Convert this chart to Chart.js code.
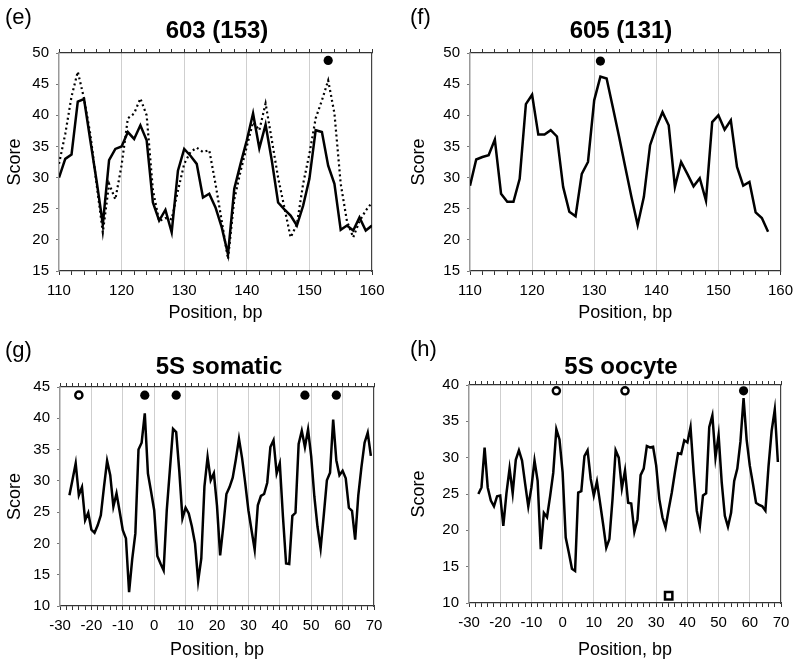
<!DOCTYPE html>
<html>
<head>
<meta charset="utf-8">
<title>Score profiles</title>
<script src="https://cdn.jsdelivr.net/npm/chart.js"></script>
<style>
  body { margin: 0; background: #fff; font-family: "Liberation Sans", Arial, sans-serif; }
  #wrap { position: relative; width: 800px; height: 668px; }
  canvas { position: absolute; }
  .lab { position: absolute; font-size: 22px; line-height: 24px; }
  .ttl { position: absolute; font-size: 24px; line-height: 28px; font-weight: bold; width: 400px; text-align: center; }
</style>
</head>
<body>
<div id="wrap">
  <canvas id="pe" width="400" height="334" style="left:0;top:0"></canvas>
  <canvas id="pf" width="400" height="334" style="left:400px;top:0"></canvas>
  <canvas id="pg" width="400" height="334" style="left:0;top:334px"></canvas>
  <canvas id="ph" width="400" height="334" style="left:400px;top:334px"></canvas>
  <div class="lab" style="left:5px;top:5px">(e)</div>
  <div class="lab" style="left:410px;top:5px">(f)</div>
  <div class="lab" style="left:5px;top:338px">(g)</div>
  <div class="lab" style="left:410px;top:337px">(h)</div>
  <div class="ttl" style="left:17px;top:16px">603 (153)</div>
  <div class="ttl" style="left:421px;top:16px">605 (131)</div>
  <div class="ttl" style="left:19px;top:352px">5S somatic</div>
  <div class="ttl" style="left:421px;top:352px">5S oocyte</div>
</div>
<script>
// positions (bp)
function range(a, b) { const r = []; for (let i = a; i <= b; i++) r.push(i); return r; }
const posE = range(110, 160);
const posF = range(110, 158);
const posG = range(-27, 69);
const posH = range(-27, 69);

// (e) 603 - solid and dotted profiles
const eSolid = [30.0, 33.0, 33.7, 42.2, 42.6, 36.0, 29.5, 22.5, 32.8, 34.6,
                35.0, 37.3, 36.2, 38.4, 36.0, 26.0, 23.1, 24.8, 21.2, 31.1,
                34.6, 33.5, 32.2, 26.8, 27.4, 25.2, 22.0, 17.7, 28.2, 32.2,
                36.0, 40.3, 34.7, 38.5, 32.7, 26.0, 24.9, 23.9, 22.3, 25.5,
                29.8, 37.6, 37.3, 31.9, 29.0, 21.6, 22.3, 21.5, 23.6, 21.5, 22.3];
const eDotted = [32.2, 37.0, 43.0, 47.0, 42.7, 37.0, 29.0, 21.2, 29.0, 26.5,
                 32.0, 39.5, 40.3, 42.7, 40.0, 28.0, 23.0, 23.5, 23.3, 27.9,
                 32.2, 34.1, 34.8, 34.1, 34.4, 29.0, 23.0, 16.9, 26.5, 31.0,
                 35.0, 38.9, 37.6, 41.9, 36.0, 30.0, 25.2, 20.4, 22.5, 29.0,
                 33.8, 39.5, 42.4, 45.6, 40.3, 29.0, 23.0, 20.4, 23.0, 24.7, 26.0];

// (f) 605
const fSolid = [28.7, 32.9, 33.3, 33.6, 36.1, 27.4, 26.1, 26.1, 29.8, 41.8,
                43.3, 36.9, 36.9, 37.6, 36.6, 28.5, 24.5, 23.8, 30.6, 32.5,
                42.4, 46.2, 45.9, 41.3, 36.6, 31.7, 26.9, 22.4, 26.9, 35.2,
                38.1, 40.5, 38.4, 28.5, 32.5, 30.6, 28.6, 29.9, 26.3, 38.9,
                40.0, 37.7, 39.2, 31.7, 28.7, 29.3, 24.4, 23.5, 21.3];

// (g) 5S somatic
const gSolid = [27.7, 30.2, 32.8, 27.7, 29.0, 23.7, 24.9, 22.2, 21.7, 22.9,
                24.5, 29.0, 33.2, 30.9, 25.9, 28.0, 25.1, 22.1, 20.8, 12.2,
                17.5, 21.6, 35.0, 36.1, 40.8, 31.2, 28.3, 25.3, 18.0, 16.8,
                15.7, 25.3, 31.8, 38.3, 37.8, 31.5, 24.0, 25.7, 24.8, 22.7,
                20.0, 14.0, 17.6, 29.1, 33.8, 30.1, 31.2, 26.0, 18.1, 22.7,
                27.9, 29.0, 30.5, 33.4, 36.7, 33.6, 29.6, 25.3, 22.1, 19.0,
                26.1, 27.6, 27.9, 29.7, 35.4, 36.5, 31.2, 32.8, 24.3, 16.8,
                16.7, 24.4, 24.9, 35.9, 38.0, 35.4, 38.2, 33.9, 27.5, 22.7,
                19.2, 24.5, 30.1, 31.3, 39.8, 33.3, 30.9, 31.6, 30.4, 25.7,
                25.2, 20.6, 27.7, 32.2, 36.1, 37.7, 34.0];

// (h) 5S oocyte
const hSolid = [25.0, 25.9, 31.4, 25.9, 24.1, 23.3, 24.7, 24.8, 20.6, 25.1,
                28.5, 25.1, 29.7, 31.0, 29.6, 26.4, 23.3, 25.9, 29.6, 26.8,
                17.4, 22.4, 21.8, 24.7, 27.9, 33.9, 32.5, 28.0, 19.0, 16.9,
                14.7, 14.4, 25.2, 25.4, 30.2, 31.0, 27.1, 24.8, 26.7, 23.8,
                20.8, 17.6, 18.8, 24.3, 31.0, 30.0, 25.8, 28.2, 23.8, 23.7,
                19.8, 21.5, 27.6, 28.5, 31.6, 31.4, 31.5, 28.9, 24.3, 21.8,
                20.4, 22.9, 25.2, 28.0, 30.6, 30.5, 32.4, 32.1, 34.2, 28.0,
                22.7, 20.6, 24.8, 25.1, 34.2, 35.8, 30.0, 33.1, 26.6, 22.0,
                20.5, 22.4, 26.8, 28.5, 32.2, 38.2, 32.4, 28.9, 26.4, 23.8,
                23.5, 23.3, 22.7, 28.8, 33.7, 36.6, 29.4];

// markers
const eFilledX = [153], eFilledY = [48.8];
const fFilledX = [131], fFilledY = [48.7];
const gOpenX = [-24], gOpenY = [43.7];
const gFilledX = [-3, 7, 48, 58], gFilledY = [43.7, 43.7, 43.7, 43.7];
const hOpenX = [-2, 20], hOpenY = [39.2, 39.2];
const hFilledX = [58], hFilledY = [39.2];
const hSquareX = [34], hSquareY = [11.0];

function pts(xs, ys) { return xs.map((x, i) => ({ x: x, y: ys[i] })); }

function lineSet(xs, ys, dotted) {
  return {
    data: pts(xs, ys), borderColor: '#000', borderWidth: dotted ? 2.2 : 2.5,
    borderDash: dotted ? [2, 3] : [], pointRadius: 0, tension: 0, fill: false
  };
}
function markSet(xs, ys, kind) {
  const s = { data: pts(xs, ys), showLine: false, clip: false, borderColor: '#000' };
  if (kind === 'filled') Object.assign(s, { pointRadius: 4.6, pointBackgroundColor: '#000', pointBorderWidth: 0 });
  if (kind === 'open') Object.assign(s, { pointRadius: 3.6, pointBackgroundColor: '#fff', pointBorderWidth: 2.4 });
  if (kind === 'square') Object.assign(s, { pointStyle: 'rect', pointRadius: 5.2, pointBackgroundColor: '#fff', pointBorderWidth: 2.5 });
  return s;
}

const H = 334, W = 400;

function panel(id, p) {
  const a = p.area;
  const gridColor = c => (c.tick && c.tick.value % 10 === 0 && c.tick.value !== p.xMin && c.tick.value !== p.xMax)
    ? '#cfcfcf' : 'rgba(0,0,0,0)';
  new Chart(document.getElementById(id), {
    type: 'line',
    data: { datasets: p.datasets },
    options: {
      responsive: false, animation: false,
      layout: { padding: { left: 0, right: W - a.right, top: a.top - 5, bottom: 0 } },
      plugins: { legend: { display: false }, tooltip: { enabled: false } },
      scales: {
        x: {
          type: 'linear', position: 'bottom', min: p.xMin, max: p.xMax,
          ticks: { stepSize: 2, autoSkip: false, maxRotation: 0, padding: 7, color: '#000',
                   font: { size: 15, family: 'Liberation Sans' },
                   callback: v => (v % 10 === 0 ? String(v) : '') },
          grid: { color: gridColor, tickColor: '#333', tickLength: 4, lineWidth: 1 },
          border: { color: '#333', width: 1.2 },
          title: { display: true, text: 'Position, bp', color: '#000',
                   font: { size: 18, family: 'Liberation Sans' }, padding: { top: 0, bottom: p.xTitlePad } },
          afterFit: s => { s.height = H - a.bottom; }
        },
        x2: {
          type: 'linear', position: 'top', min: p.xMin, max: p.xMax,
          ticks: { stepSize: 2, autoSkip: false, display: false },
          grid: { drawOnChartArea: false, tickColor: '#333', tickLength: 4 },
          border: { color: '#333', width: 1.2 },
          afterFit: s => { s.height = 5; }
        },
        y: {
          type: 'linear', position: 'left', min: p.yMin, max: p.yMax,
          ticks: { stepSize: 5, padding: 7, color: '#000', font: { size: 15, family: 'Liberation Sans' } },
          grid: { drawOnChartArea: false, tickColor: '#777', tickLength: 3 },
          border: { color: '#999', width: 1.5 },
          title: { display: true, text: 'Score', color: '#000',
                   font: { size: 18, family: 'Liberation Sans' }, padding: { top: p.yTitlePad, bottom: 0 } },
          afterFit: s => { s.width = a.left; }
        },
        y2: {
          type: 'linear', position: 'right', min: p.yMin, max: p.yMax,
          ticks: { display: false },
          grid: { drawOnChartArea: false, drawTicks: false },
          border: { color: '#444', width: 1.2 },
          afterFit: s => { s.width = 0; }
        }
      }
    }
  });
}

panel('pe', {
  xMin: 110, xMax: 160, yMin: 15, yMax: 50, xTitlePad: 10, yTitlePad: 4,
  area: { left: 59, right: 372, top: 53, bottom: 271 },
  datasets: [lineSet(posE, eSolid, false), lineSet(posE, eDotted, true), markSet(eFilledX, eFilledY, 'filled')]
});
panel('pf', {
  xMin: 110, xMax: 160, yMin: 15, yMax: 50, xTitlePad: 10, yTitlePad: 8,
  area: { left: 70, right: 382, top: 53, bottom: 271 },
  datasets: [lineSet(posF, fSolid, false), markSet(fFilledX, fFilledY, 'filled')]
});
panel('pg', {
  xMin: -30, xMax: 70, yMin: 10, yMax: 45, xTitlePad: 7, yTitlePad: 4,
  area: { left: 60, right: 374, top: 53, bottom: 272 },
  datasets: [lineSet(posG, gSolid, false), markSet(gOpenX, gOpenY, 'open'), markSet(gFilledX, gFilledY, 'filled')]
});
panel('ph', {
  xMin: -30, xMax: 70, yMin: 10, yMax: 40, xTitlePad: 7, yTitlePad: 8,
  area: { left: 69, right: 381, top: 51, bottom: 269 },
  datasets: [lineSet(posH, hSolid, false), markSet(hOpenX, hOpenY, 'open'),
             markSet(hFilledX, hFilledY, 'filled'), markSet(hSquareX, hSquareY, 'square')]
});
</script>
</body>
</html>
